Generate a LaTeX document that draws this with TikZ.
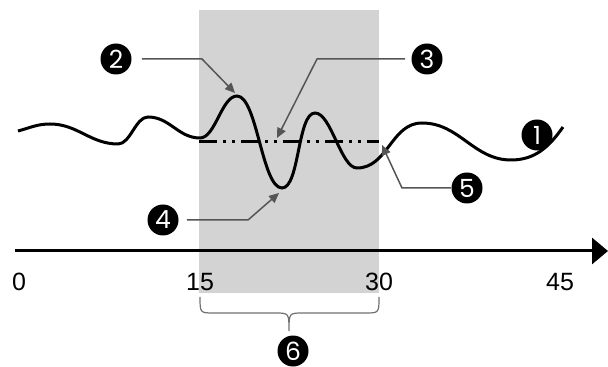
\documentclass[tikz,border=0pt]{standalone}
\usepackage{fontspec}
\setmainfont{Liberation Sans}
\newfontfamily\calloutfont{Poppins}
\usetikzlibrary{positioning, arrows.meta, calc}
\tikzstyle{callout} =[circle, fill=black, text=white, minimum size=15.5pt, inner sep=0pt, font=\calloutfont\fontsize{12.5}{13}\selectfont]
\tikzstyle{leader} =[-{Triangle[length=5pt, width=4.5pt]}, line width=0.75pt, leaderGray]
\tikzstyle{ticklabel} =[font=\fontsize{12.5}{14}\selectfont]
\definecolor{windowGray}{HTML}{D3D3D3}
\definecolor{leaderGray}{HTML}{555555}
\definecolor{braceGray}{HTML}{707070}

\begin{document}
\begin{tikzpicture}[x=0.5pt, y=-0.5pt]
\useasboundingbox (0,0) rectangle (608,367);

\node (window) [fill=windowGray, minimum width=90pt, minimum height=141.5pt, inner sep=0pt, anchor=north west] at (199,10) {};

\draw[line width=1.5pt] (18,131) to[out=15,in=180] (50,124) to[out=0,in=180] (118,144)
	to[out=0,in=180, looseness=0.8] (148,117) to[out=0,in=180] (200,138) to[out=0,in=180, looseness=0.7] (237,96)
	to[out=0,in=180, looseness=0.5] (282,188) to[out=0,in=180, looseness=0.55] (315,113) to[out=0,in=180, looseness=0.6] (357,168)
	to[out=0,in=180] (422,123) to[out=0,in=180] (511,160) to[out=0,in=-125] (563,127);

\coordinate (baseL) at (199,142);
\coordinate (baseR) at (379,142);
\draw[line width=1.5pt, dash pattern=on 9pt off 3pt on 1.5pt off 3pt on 1.5pt off 3pt] (baseL) -- (baseR);

\coordinate (origin) at (15,251);
\coordinate (axisEnd) at (608,251);
\draw[-{Triangle[length=8pt, width=13pt]}, line width=1.5pt] (origin) -- (axisEnd);

\node (t0) [ticklabel] at (19,282) {0};
\node (t15) [ticklabel] at (200,282) {15};
\node (t30) [ticklabel] at (379,282) {30};
\node (t45) [ticklabel] at (560,282) {45};

\coordinate (braceL) at (200,297);
\coordinate (braceR) at (379,297);
\coordinate (braceTip) at (289,331);
\draw[braceGray, line width=0.6pt] (braceL) .. controls (200,313) and (200,313) .. (214,313) -- (275,313)
	.. controls (289,313) and (289,313) .. (braceTip) .. controls (289,313) and (289,313) .. (303,313)
	-- (365,313) .. controls (379,313) and (379,313) .. (braceR);

\node (c1) [callout] at (537,135) {1};
\node (c2) [callout] at (116,59) {2};
\node (c3) [callout] at (427,59) {3};
\node (c4) [callout] at (163,220) {4};
\node (c5) [callout] at (467,188) {5};
\node (c6) [callout] at (293,351) {6};

\coordinate (bend2) at (202,59);
\coordinate (peakTip) at (235,93);
\coordinate (bend3) at (317,59);
\coordinate (baseTip) at (277,138);
\coordinate (bend4) at (248,220);
\coordinate (troughTip) at (279,193);
\coordinate (bend5) at (402,188);
\coordinate (joinTip) at (382,145);

\draw[leader, shorten <=5pt] (c2) -- (bend2) -- (peakTip);
\draw[leader, shorten <=3pt] (c3) -- (bend3) -- (baseTip);
\draw[leader, shorten <=4pt] (c4) -- (bend4) -- (troughTip);
\draw[leader] (c5) -- (bend5) -- (joinTip);

\end{tikzpicture}
\end{document}
